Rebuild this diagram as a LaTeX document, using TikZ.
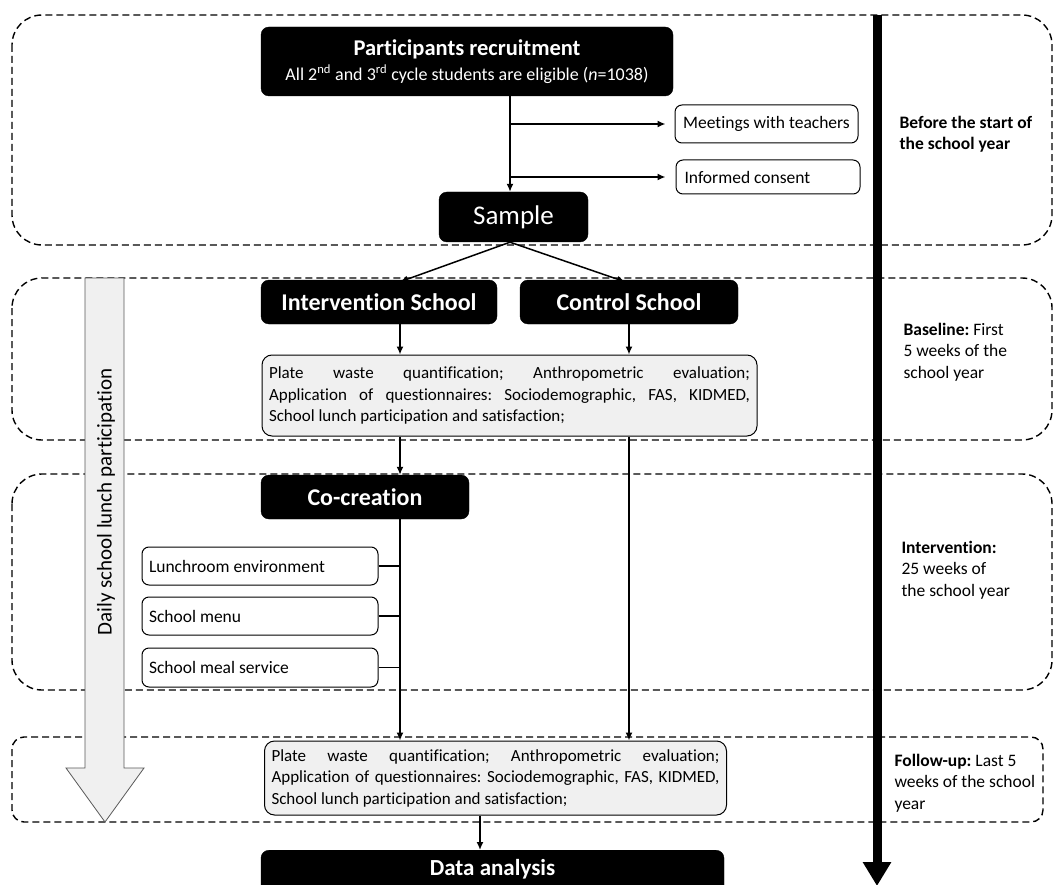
\documentclass[tikz,border=0pt]{standalone}
\usepackage{fontspec}
\setmainfont{Carlito}[Ligatures=NoCommon]
\usetikzlibrary{arrows.meta}
\newcommand\spreadln[2]{\makebox[#1][s]{\spaceskip=0pt\relax\xspaceskip=0pt\relax #2}}
\tikzset{
  blk/.style={fill=black, draw=black, text=white, rounded corners=8pt, inner sep=0pt, align=flush center},
  wbox/.style={draw=black, fill=white, rounded corners=7pt, line width=1pt, inner sep=0pt},
  gbox/.style={draw=black, fill=gray!12, rounded corners=10pt, line width=1pt, inner ysep=4pt, inner xsep=7pt},
  zone/.style={draw=black, dash pattern=on 7pt off 4pt, line width=1.4pt},
  arr/.style={-{Latex[length=8pt,width=7pt]}, line width=1.5pt},
  lnk/.style={line width=1.5pt},
  side/.style={anchor=west, align=flush left, font=\fontsize{17.5}{21.5}\selectfont},
  bodytxt/.style={font=\fontsize{17.5}{21.5}\selectfont},
  graytxt/.style={font=\fontsize{17}{21.5}\selectfont},
  headtxt/.style={font=\fontsize{24}{28}\selectfont\bfseries},
}
\begin{document}
\frenchspacing
\begin{tikzpicture}[x=1pt,y=-1pt]
\useasboundingbox (0,0) rectangle (1054,885);
\clip (0,0) rectangle (1054,885);
\fill[white] (0,0) rectangle (1054,885);

% phase zones
\draw[zone, rounded corners=30pt] (12,15) rectangle (1052,245);
\draw[zone, rounded corners=30pt] (12,278) rectangle (1052,440);
\draw[zone, rounded corners=30pt] (12,474) rectangle (1052,690);
\draw[zone, rounded corners=12pt] (12,737) rectangle (1043,822);

% left hollow arrow
\filldraw[fill=gray!12, draw=gray!70!black, line width=0.8pt]
  (85,278) -- (124,278) -- (124,768) -- (144,768) -- (105,822) -- (66,768) -- (85,768) -- cycle;
\node[rotate=90, font=\fontsize{21}{24}\selectfont] (daily) at (106,502) {Daily school lunch participation};

% right timeline arrow
\coordinate (tTop) at (877,15);
\coordinate (tBot) at (877,886);
\draw[line width=9pt, -{Triangle[length=24pt,width=27pt]}] (tTop) -- (tBot);

% column coordinates
\coordinate (cI) at (400,0);
\coordinate (cC) at (629,0);
\coordinate (cM) at (510,0);
\coordinate (cD) at (480,0);

% nodes
\node[blk, minimum width=412pt, minimum height=69pt] (rec) at (467,61.5)
  {{\fontsize{22.5}{26}\selectfont\bfseries Participants recruitment}\\[5pt]
   {\fontsize{18}{20}\selectfont All 2\textsuperscript{nd} and 3\textsuperscript{rd} cycle students are eligible (\textit{n}=1038)}};
\node[wbox, minimum width=183pt, minimum height=38pt, bodytxt] (meet) at (766.5,124) {Meetings with teachers};
\node[wbox, text width=167pt, inner xsep=8.5pt, minimum height=34pt, align=flush left, bodytxt] (cons) at (768,177) {Informed consent};
\node[blk, minimum width=149pt, minimum height=50pt, font=\fontsize{27}{30}\selectfont] (sample) at (513.5,217) {Sample};
\node[blk, minimum width=236pt, minimum height=44pt, headtxt] (iv) at (379,302) {Intervention School};
\node[blk, minimum width=218pt, minimum height=44pt, headtxt] (ctrl) at (629,302) {Control School};
\node[gbox, text width=481pt, minimum height=81pt, align=flush left, graytxt] (base) at (509.5,395.5)
  {\spreadln{481pt}{Plate waste quantification; Anthropometric evaluation;}\\
   \spreadln{481pt}{Application of questionnaires: Sociodemographic, FAS, KIDMED,}\\
   School lunch participation and satisfaction;};
\node[blk, minimum width=208pt, minimum height=44pt, headtxt] (cocr) at (365,497) {Co-creation};
\node[wbox, text width=222pt, inner xsep=7pt, minimum height=38pt, align=flush left, bodytxt] (lunch) at (260,566) {Lunchroom environment};
\node[wbox, text width=222pt, inner xsep=7pt, minimum height=38pt, align=flush left, bodytxt] (menu) at (260,616) {School menu};
\node[wbox, text width=222pt, inner xsep=7pt, minimum height=39pt, align=flush left, bodytxt] (meal) at (260,667.5) {School meal service};
\node[gbox, text width=448pt, minimum height=74pt, align=flush left, graytxt] (fu) at (495.5,778)
  {\spreadln{448pt}{Plate waste quantification; Anthropometric evaluation;}\\
   \spreadln{448pt}{Application of questionnaires: Sociodemographic, FAS, KIDMED,}\\
   School lunch participation and satisfaction;};
\node[blk, anchor=north, minimum width=463pt, text height=25pt, text depth=30pt, font=\fontsize{23}{26}\selectfont\bfseries] (data) at (492.5,850) {Data analysis};

% side labels
\node[side, font=\fontsize{17.5}{21.5}\selectfont\bfseries] (lab1) at (896,134) {Before the start of\\the school year};
\node[side] (lab2) at (900,352) {\textbf{Baseline:} First\\5 weeks of the\\school year};
\node[side] (lab3) at (898,570) {\textbf{Intervention:}\\25 weeks of\\the school year};
\node[side] (lab4) at (891,783) {\textbf{Follow-up:} Last 5\\weeks of the school\\year};

% connectors
\draw[arr] (rec.south -| cM) -- (sample.north -| cM);
\draw[arr, shorten >=9pt] (cM |- meet.west) -- (meet.west);
\draw[arr, shorten >=10pt] (cM |- cons.west) -- (cons.west);
\coordinate (sOut) at (sample.south -| cM);
\draw[arr] (sOut) -- ([yshift=-2pt]iv.north -| cI);
\draw[arr] (sOut) -- ([yshift=-2pt]ctrl.north -| 625,0);
\draw[arr] (iv.south -| cI) -- (base.north -| cI);
\draw[arr] (ctrl.south -| cC) -- (base.north -| cC);
\draw[arr] (base.south -| cI) -- (cocr.north -| cI);
\draw[arr] (base.south -| cC) -- (fu.north -| cC);
\draw[arr] (cocr.south -| cI) -- (fu.north -| cI);
\draw[lnk] (lunch.east) -- (lunch.east -| cI);
\draw[lnk] (menu.east) -- (menu.east -| cI);
\draw[lnk] (meal.east) -- (meal.east -| cI);
\draw[arr] (fu.south -| cD) -- (data.north -| cD);
\end{tikzpicture}
\end{document}
